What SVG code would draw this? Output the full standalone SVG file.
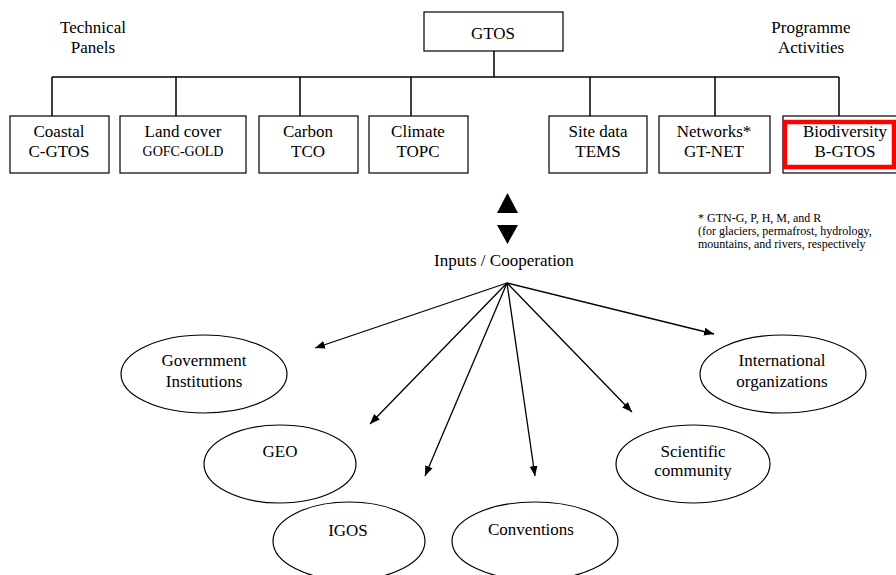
<svg xmlns="http://www.w3.org/2000/svg" width="896" height="575" viewBox="0 0 896 575" font-family="'Liberation Serif', 'Times New Roman', Times, 'DejaVu Serif', serif">
<defs>
<style>
text{font-family:'Liberation Serif','Times New Roman',Times,'DejaVu Serif',serif;fill:#000;text-anchor:middle}
.t{font-size:17px}
.s{font-size:14px}
.f{font-size:12px;text-anchor:start}
.box{fill:#fff;stroke:#000;stroke-width:1.2}
.ell{fill:#fff;stroke:#000;stroke-width:1.2}
.tree{fill:none;stroke:#000;stroke-width:1.5}
.arr{fill:none;stroke:#000;stroke-width:1.3;marker-end:url(#ah)}
</style>
<marker id="ah" viewBox="0 0 10 8" refX="10" refY="4" markerWidth="10" markerHeight="8" markerUnits="userSpaceOnUse" orient="auto">
<path d="M0,0 L10,4 L0,8 Z" fill="#000"/>
</marker>
</defs>
<rect width="896" height="575" fill="#fff"/>

<text class="t" x="93" y="33">Technical</text>
<text class="t" x="93" y="53">Panels</text>
<text class="t" x="811" y="33">Programme</text>
<text class="t" x="811" y="53">Activities</text>

<g id="connectors">
<path class="tree" d="M494,51 V77 M52,77 H839 M52,77 V116 M176,77 V116 M300,77 V116 M411,77 V116 M590,77 V116 M715,77 V116 M839,77 V116"/>
<path class="arr" d="M507,283 L315,348"/>
<path class="arr" d="M507,283 L370,424"/>
<path class="arr" d="M507,283 L425,476"/>
<path class="arr" d="M507,283 L535,476"/>
<path class="arr" d="M507,283 L632,412"/>
<path class="arr" d="M507,283 L714,334"/>
<path d="M497,213 L507.5,193 L518,213 Z M497,225 L518,225 L507.5,244 Z" fill="#000"/>
</g>

<g id="gtos"><rect class="box" x="424" y="12" width="139" height="39"/><text class="t" x="493" y="39">GTOS</text></g>

<g id="coastal"><rect class="box" x="10" y="116" width="99" height="57"/><text class="t" x="59" y="137">Coastal</text><text class="t" x="59" y="157">C-GTOS</text></g>
<g id="landcover"><rect class="box" x="120" y="116" width="126" height="57"/><text class="t" x="183" y="137">Land cover</text><text class="s" x="183" y="156">GOFC-GOLD</text></g>
<g id="carbon"><rect class="box" x="259" y="116" width="99" height="57"/><text class="t" x="308" y="137">Carbon</text><text class="t" x="308" y="157">TCO</text></g>
<g id="climate"><rect class="box" x="369" y="116" width="99" height="57"/><text class="t" x="418" y="137">Climate</text><text class="t" x="418" y="157">TOPC</text></g>
<g id="sitedata"><rect class="box" x="549" y="116" width="98" height="57"/><text class="t" x="598" y="137">Site data</text><text class="t" x="598" y="157">TEMS</text></g>
<g id="networks"><rect class="box" x="659" y="116" width="111" height="57"/><text class="t" x="714" y="137">Networks*</text><text class="t" x="714" y="157">GT-NET</text></g>
<g id="biodiversity"><rect class="box" x="783" y="116" width="114" height="57"/><rect x="785" y="122" width="109" height="45" fill="none" stroke="#f00" stroke-width="4.5"/><text class="t" x="845" y="137">Biodiversity</text><text class="t" x="845" y="157">B-GTOS</text></g>

<g id="footnote">
<text class="f" x="698" y="222">* GTN-G, P, H, M, and R</text>
<text class="f" x="698" y="235">(for glaciers, permafrost, hydrology,</text>
<text class="f" x="698" y="248">mountains, and rivers, respectively</text>
</g>

<g id="inputs"><text class="t" x="504" y="266">Inputs / Cooperation</text></g>

<g id="government"><ellipse class="ell" cx="204" cy="374" rx="83" ry="39"/><text class="t" x="204" y="366">Government</text><text class="t" x="204" y="387">Institutions</text></g>
<g id="geo"><ellipse class="ell" cx="280" cy="464" rx="76" ry="39"/><text class="t" x="280" y="457">GEO</text></g>
<g id="igos"><ellipse class="ell" cx="349" cy="541" rx="76" ry="39"/><text class="t" x="348" y="536">IGOS</text></g>
<g id="conventions"><ellipse class="ell" cx="535" cy="541" rx="83" ry="39"/><text class="t" x="531" y="535">Conventions</text></g>
<g id="scientific"><ellipse class="ell" cx="693" cy="464" rx="77" ry="39"/><text class="t" x="693" y="457">Scientific</text><text class="t" x="693" y="476">community</text></g>
<g id="international"><ellipse class="ell" cx="783" cy="374" rx="83" ry="39"/><text class="t" x="782" y="366">International</text><text class="t" x="782" y="387">organizations</text></g>
</svg>
